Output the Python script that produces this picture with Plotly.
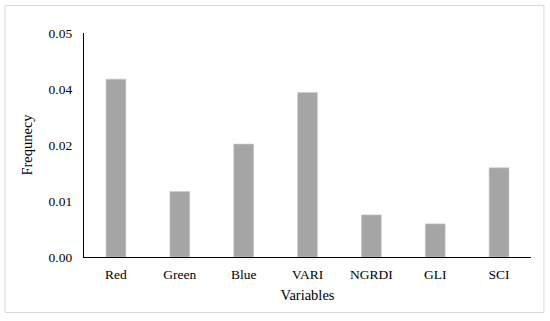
import plotly.graph_objects as go

categories = ["Red", "Green", "Blue", "VARI", "NGRDI", "GLI", "SCI"]
frequency = [0.0397, 0.0146, 0.0252, 0.0367, 0.0094, 0.0074, 0.0199]

y_tick_vals = [0.0, 0.0125, 0.025, 0.0375, 0.05]
y_tick_text = ["0.00", "0.01", "0.02", "0.04", "0.05"]

font_family = "Liberation Serif, Times New Roman, serif"

fig = go.Figure(
    go.Bar(
        x=categories,
        y=frequency,
        width=0.31,
        marker=dict(color="#a5a5a5", line=dict(color="#c8c8c8", width=0.6)),
    )
)

fig.update_layout(
    width=550,
    height=321,
    margin=dict(l=84, r=19, t=33, b=64),
    paper_bgcolor="white",
    plot_bgcolor="white",
    showlegend=False,
    font=dict(family=font_family, size=13.5, color="black"),
    shapes=[
        dict(
            type="rect", xref="paper", yref="paper",
            x0=-0.1767, x1=1.029, y0=-0.2478, y1=1.1228,
            line=dict(color="#d9d9d9", width=1), fillcolor="rgba(0,0,0,0)",
            layer="below",
        )
    ],
)

fig.update_xaxes(
    range=[-0.5, 6.5],
    showline=True, linecolor="black", linewidth=1.2,
    showgrid=False, ticks="", ticklabelstandoff=5,
    title=dict(text="Variables", font=dict(size=14.5), standoff=8),
)

fig.update_yaxes(
    range=[0, 0.05],
    tickvals=y_tick_vals, ticktext=y_tick_text,
    showline=True, linecolor="black", linewidth=1.2,
    showgrid=False, zeroline=False, ticks="", ticklabelstandoff=8,
    title=dict(text="Frequnecy", font=dict(size=14.5), standoff=12),
)

fig.write_html(
    "out.html",
    config={"displayModeBar": False},
    post_script="document.body.style.margin='0';document.body.style.padding='0';",
)
